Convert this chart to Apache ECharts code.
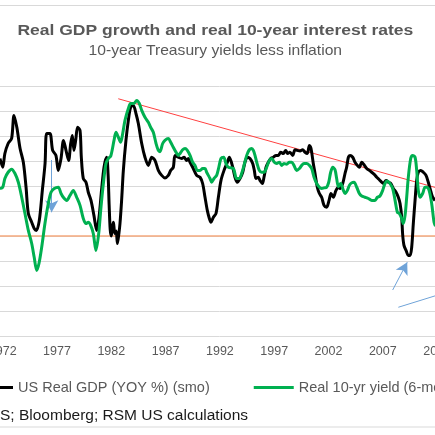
<!DOCTYPE html>
<html>
<head>
<meta charset="utf-8">
<script src="https://cdn.jsdelivr.net/npm/echarts@6/dist/echarts.min.js"></script>
<style>
  html, body { margin: 0; padding: 0; overflow: hidden; background: #fff; }
  #chart { position: absolute; left: -60px; top: 0; width: 550px; height: 435px; }
</style>
</head>
<body>
<div id="chart"></div>
<script>
// the original chart is wider than the picture; the div is shifted so the crop matches
var gdpName = 'US Real GDP (YOY %) (smo)';
var yieldName = 'Real 10-yr yield (6-mo avg)';

var gdpYears = [1971.75, 1972.0, 1972.2, 1972.5, 1972.82, 1973.04, 1973.3, 1973.6, 1973.9, 1974.15,
  1974.36, 1974.67, 1974.9, 1975.1, 1975.37, 1975.65, 1975.9, 1976.05, 1976.35, 1976.6,
  1976.9, 1977.12, 1977.37, 1977.6, 1977.83, 1978.07, 1978.26, 1978.41, 1978.56, 1978.72,
  1978.9, 1979.12, 1979.24, 1979.42, 1979.67, 1979.88, 1980.13, 1980.4, 1980.65, 1980.87,
  1981.1, 1981.33, 1981.57, 1981.7, 1981.8, 1981.9, 1982.0, 1982.12, 1982.2, 1982.32,
  1982.45, 1982.56, 1982.7, 1982.8, 1982.95, 1983.11, 1983.35, 1983.57, 1983.78, 1984.03,
  1984.27, 1984.49, 1984.8, 1985.1, 1985.41, 1985.72, 1986.02, 1986.33, 1986.64, 1986.94,
  1987.25, 1987.47, 1987.71, 1987.87, 1988.17, 1988.48, 1988.7, 1988.94, 1989.09, 1989.25,
  1989.55, 1989.86, 1990.17, 1990.41, 1990.63, 1990.84, 1991.03, 1991.18, 1991.4, 1991.64,
  1991.86, 1992.1, 1992.38, 1992.69, 1992.87, 1993.18, 1993.39, 1993.6, 1993.85, 1994.1,
  1994.31, 1994.53, 1994.77, 1995.02, 1995.17, 1995.32, 1995.54, 1995.69, 1995.91, 1996.06,
  1996.25, 1996.46, 1996.68, 1996.92, 1997.17, 1997.38, 1997.6, 1997.84, 1998.06, 1998.24,
  1998.45, 1998.7, 1998.92, 1999.13, 1999.38, 1999.62, 1999.84, 2000.05, 2000.24, 2000.39,
  2000.6, 2000.76, 2000.97, 2001.16, 2001.37, 2001.59, 2001.83, 2002.05, 2002.23, 2002.45,
  2002.69, 2002.9, 2003.06, 2003.31, 2003.52, 2003.67, 2003.83, 2003.98, 2004.23, 2004.44,
  2004.66, 2004.84, 2005.06, 2005.27, 2005.52, 2005.76, 2005.98, 2006.19, 2006.44, 2006.68,
  2006.9, 2007.05, 2007.3, 2007.51, 2007.73, 2007.97, 2008.22, 2008.43, 2008.59, 2008.74,
  2008.83, 2008.95, 2009.14, 2009.35, 2009.51, 2009.66, 2009.81, 2009.97, 2010.12, 2010.27,
  2010.49, 2010.73, 2010.98, 2011.19, 2011.41, 2011.59, 2011.81];
var gdpValues = [4.2, 3.5, 4.6, 5.4, 5.8, 7.65, 6.7, 5.0, 3.9, 1.9,
  -0.2, -0.9, -1.4, -1.55, -0.75, 1.65, 3.8, 6.2, 6.2, 4.85,
  4.45, 3.25, 4.2, 5.65, 4.85, 4.05, 5.4, 6.05, 4.85, 5.65,
  6.7, 6.45, 4.3, 2.6, 2.3, 1.5, 0.85, -0.35, -1.55, -0.5,
  1.65, 3.5, 4.3, 3.0, 0.5, -1.5, -2.0, -1.2, -0.9, -1.8,
  -1.6, -2.6, -1.8, -1.0, 0.85, 3.25, 5.65, 7.25, 8.3, 8.45,
  7.8, 7.0, 5.4, 4.3, 3.65, 4.3, 4.05, 3.25, 2.85, 2.65,
  2.85, 3.25, 3.5, 4.45, 4.3, 4.2, 4.3, 4.05, 4.2, 3.9,
  3.4, 2.85, 2.7, 2.2, 1.1, 0.05, -0.6, -0.9, -0.5, -0.2,
  1.1, 2.45, 3.25, 3.9, 4.3, 3.5, 2.7, 2.3, 2.6, 3.1,
  3.9, 4.3, 4.2, 3.8, 3.25, 2.6, 2.7, 2.45, 2.2, 2.7,
  3.5, 3.9, 4.2, 4.3, 4.45, 4.45, 4.7, 4.6, 4.85, 4.6,
  4.7, 4.45, 4.9, 4.85, 4.8, 4.9, 4.7, 4.6, 5.25, 5.0,
  3.8, 3.0, 1.9, 1.4, 1.1, 0.45, 0.3, 0.85, 1.4, 1.1,
  1.65, 1.9, 1.8, 2.2, 3.0, 3.5, 4.3, 4.45, 4.3, 3.9,
  3.65, 3.5, 3.9, 3.7, 3.4, 3.25, 3.1, 2.95, 2.7, 2.5,
  2.3, 2.2, 2.45, 2.3, 2.2, 1.8, 1.5, 1.1, 0.6, -0.5,
  -1.9, -2.75, -3.15, -3.55, -3.55, -2.9, -1.0, 0.85, 2.45, 3.1,
  3.25, 3.1, 2.85, 2.3, 1.6, 1.1, 0.85];

var yieldYears = [1971.75, 1972.0, 1972.2, 1972.5, 1972.82, 1973.13, 1973.44, 1973.75, 1974.05, 1974.36,
  1974.67, 1974.9, 1975.13, 1975.34, 1975.59, 1975.89, 1976.2, 1976.45, 1976.75, 1977.12,
  1977.37, 1977.58, 1977.89, 1978.2, 1978.5, 1978.81, 1979.12, 1979.42, 1979.67, 1979.88,
  1980.1, 1980.34, 1980.59, 1980.84, 1981.05, 1981.27, 1981.51, 1981.73, 1981.95, 1982.25,
  1982.43, 1982.65, 1982.86, 1983.05, 1983.26, 1983.57, 1983.78, 1984.09, 1984.34, 1984.58,
  1984.8, 1985.1, 1985.41, 1985.62, 1985.87, 1986.12, 1986.33, 1986.48, 1986.73, 1986.94,
  1987.25, 1987.47, 1987.71, 1987.93, 1988.17, 1988.33, 1988.57, 1988.79, 1989.0, 1989.25,
  1989.49, 1989.71, 1989.92, 1990.17, 1990.41, 1990.63, 1990.78, 1991.09, 1991.24, 1991.46,
  1991.7, 1991.9, 1992.1, 1992.35, 1992.56, 1992.78, 1993.24, 1993.54, 1993.79, 1994.0,
  1994.22, 1994.47, 1994.71, 1994.93, 1995.08, 1995.23, 1995.39, 1995.63, 1995.85, 1996.06,
  1996.31, 1996.55, 1996.77, 1997.01, 1997.23, 1997.47, 1997.69, 1997.9, 1998.15, 1998.39,
  1998.61, 1998.82, 1999.07, 1999.32, 1999.53, 1999.74, 1999.99, 2000.24, 2000.45, 2000.67,
  2000.91, 2001.16, 2001.37, 2001.59, 2001.83, 2002.02, 2002.2, 2002.39, 2002.6, 2002.75,
  2002.91, 2003.12, 2003.37, 2003.52, 2003.74, 2003.92, 2004.13, 2004.35, 2004.6, 2004.84,
  2005.06, 2005.36, 2005.67, 2005.98, 2006.28, 2006.5, 2006.74, 2006.99, 2007.2, 2007.42,
  2007.66, 2007.91, 2008.13, 2008.34, 2008.52, 2008.74, 2008.89, 2009.05, 2009.2, 2009.35,
  2009.57, 2009.75, 2009.97, 2010.12, 2010.27, 2010.43, 2010.67, 2010.89, 2011.04, 2011.26,
  2011.5, 2011.72, 2011.85];
var yieldValues = [1.8, 1.9, 2.6, 3.1, 3.35, 3.0, 2.3, 1.1, -0.2, -1.55,
  -2.6, -3.7, -4.75, -4.2, -2.9, -1.0, 0.6, 1.5, 1.8, 1.9,
  1.4, 1.1, 0.85, 1.25, 1.65, 1.1, 0.45, -0.6, -1.0, -0.9,
  -1.15, -1.8, -3.15, -1.8, 0.3, 2.2, 3.8, 4.2, 4.4, 5.65,
  6.3, 5.9, 5.5, 6.2, 7.25, 8.2, 8.6, 8.6, 8.85, 8.6,
  8.05, 7.5, 7.1, 6.7, 6.3, 5.4, 4.85, 4.75, 5.4, 5.65,
  5.8, 5.5, 5.1, 4.75, 4.45, 4.6, 4.9, 5.0, 4.85, 4.45,
  3.9, 3.65, 3.25, 3.25, 3.4, 3.4, 3.1, 2.6, 2.3, 2.6,
  2.85, 3.5, 4.2, 4.3, 3.8, 3.5, 3.4, 2.6, 2.6, 3.0,
  3.65, 4.45, 4.9, 5.0, 4.85, 4.45, 3.9, 3.25, 3.1, 3.1,
  3.5, 4.05, 4.2, 3.9, 3.8, 3.9, 3.65, 3.8, 3.75, 3.9,
  3.9, 3.65, 3.25, 3.4, 3.65, 3.8, 3.8, 3.65, 3.4, 2.7,
  2.2, 1.9, 1.8, 1.85, 1.9, 2.3, 3.1, 3.5, 3.3, 2.6,
  1.95, 2.2, 1.65, 1.4, 1.65, 2.05, 2.25, 2.3, 1.9, 1.4,
  1.2, 1.1, 1.0, 0.85, 0.85, 1.1, 1.2, 1.65, 2.2, 2.4,
  2.2, 1.8, 0.85, -0.1, -0.2, -0.6, -1.0, -0.35, 1.1, 2.7,
  4.2, 4.45, 4.3, 3.25, 1.65, 1.1, 1.4, 1.9, 1.9, 1.65,
  0.6, -0.9, -1.2];

// annotation lines, in data units
var floorLevel = -2;
var trendLine = [[1982.64, 8.98], [2016, 0.87]];
var arrow1976 = [[1976.51, 4.08], [1976.51, -0.1]];
var arrow2009 = [[2007.91, -6.32], [2009.25, -4.1]];
var pointer2008 = [[2008.43, -7.7], [2014, -6.2]];

function pairs(xs, ys) {
  return xs.map(function (x, i) { return [x, ys[i]]; });
}

var font = "'Liberation Sans', Arial, sans-serif";
var blue = { color: '#6fa3d8', width: 1, type: 'solid' };

var chart = echarts.init(document.getElementById('chart'));

var option = {
  animation: false,
  legend: {
    data: [gdpName, yieldName],
    left: 33, top: 380, padding: 0,
    icon: 'rect', itemWidth: 40, itemHeight: 3, itemGap: 44,
    textStyle: { fontFamily: font, fontSize: 14.5, color: '#595959' }
  },
  grid: { left: 8.4, top: 86, width: 543, height: 250, outerBoundsMode: 'none', containLabel: false },
  xAxis: {
    type: 'value', min: 1967, max: 2017, interval: 5,
    axisLine: { show: false }, axisTick: { show: false }, splitLine: { show: false },
    axisLabel: {
      margin: 9, color: '#595959', fontFamily: font, fontSize: 12.5,
      formatter: function (v) { return String(v); }
    }
  },
  yAxis: {
    type: 'value', min: -10, max: 10, interval: 2,
    axisLine: { show: false }, axisTick: { show: false },
    axisLabel: { show: false },
    splitLine: { lineStyle: { color: '#d9d9d9', width: 1 } }
  },
  series: [
    {
      name: gdpName, type: 'line', z: 2,
      data: pairs(gdpYears, gdpValues),
      showSymbol: false, smooth: 0.3,
      itemStyle: { color: '#000000' },
      lineStyle: { color: '#000000', width: 3 },
      markLine: {
        silent: true, z: 1, symbol: ['none', 'none'],
        label: { show: false },
        data: [
          { yAxis: floorLevel, lineStyle: { color: '#f4a97c', width: 1.5, type: 'solid' } },
          [{ coord: trendLine[0], lineStyle: { color: '#ff4040', width: 1, type: 'solid' } },
           { coord: trendLine[1] }],
          [{ coord: arrow1976[0], lineStyle: blue },
           { coord: arrow1976[1], symbol: 'arrow', symbolSize: [10, 12] }],
          [{ coord: arrow2009[0], lineStyle: blue },
           { coord: arrow2009[1], symbol: 'arrow', symbolSize: [10, 12] }],
          [{ coord: pointer2008[0], lineStyle: blue },
           { coord: pointer2008[1], symbol: 'arrow', symbolSize: [10, 12] }]
        ]
      }
    },
    {
      name: yieldName, type: 'line', z: 3,
      data: pairs(yieldYears, yieldValues),
      showSymbol: false, smooth: 0.3,
      itemStyle: { color: '#00b050' },
      lineStyle: { color: '#00b050', width: 3 }
    }
  ],
  graphic: [
    {
      type: 'rect', z: -10, silent: true,
      shape: { x: 0.5, y: 5.5, width: 549, height: 421.5 },
      style: { fill: 'none', stroke: '#d9d9d9', lineWidth: 1 }
    },
    {
      // title glyphs in the picture are wide, so the text is stretched a little
      type: 'text', x: 275.3, y: 31.5, scaleX: 1.25, silent: true,
      style: {
        text: 'Real GDP growth and real 10-year interest rates',
        fontFamily: font, fontSize: 14, fontWeight: 'bold', fill: '#595959',
        align: 'center', verticalAlign: 'middle'
      }
    },
    {
      type: 'text', x: 275.3, y: 50.5, scaleX: 1.08, silent: true,
      style: {
        text: '10-year Treasury yields less inflation',
        fontFamily: font, fontSize: 14.5, fill: '#595959',
        align: 'center', verticalAlign: 'middle'
      }
    },
    {
      type: 'text', x: 60, y: 416, silent: true,
      style: {
        text: 'S; Bloomberg; RSM US calculations',
        fontFamily: font, fontSize: 15.5, fill: '#1a1a1a', verticalAlign: 'middle'
      }
    }
  ]
};

chart.setOption(option);
</script>
</body>
</html>
